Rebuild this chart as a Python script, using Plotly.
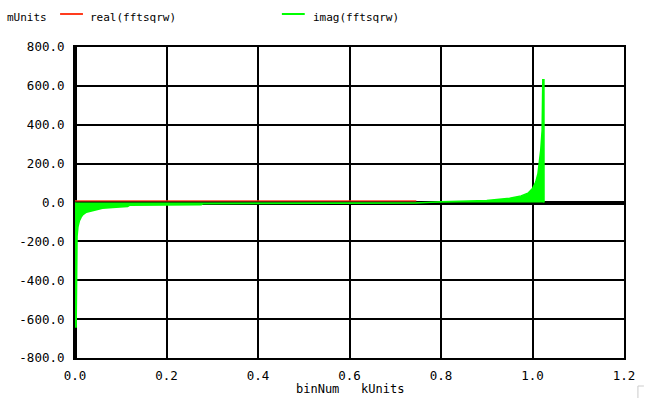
import plotly.graph_objects as go

# ---- data ----
# x in kUnits (binNum), y in mUnits
imag_x = [0.0, 0.0005, 0.0025, 0.003, 0.0045, 0.0065, 0.0095, 0.0135, 0.0175,
          0.025, 0.04, 0.06, 0.09, 0.115, 0.12, 0.2, 0.276, 0.28, 0.5, 0.746,
          0.8, 0.9, 0.95, 0.975, 0.99, 1.0, 1.007, 1.012, 1.015, 1.018, 1.021,
          1.0225, 1.025, 1.0252]
imag_y = [0, -640, -640, -210, -175, -125, -95, -75, -62,
          -50, -40, -30, -24, -21, -14, -12, -11, -6, -5, -3,
          4, 10, 22, 34, 48, 72, 105, 150, 210, 270, 370,
          632, 632, 0]

real_x = [0.0, 0.746]
real_y = [8, 8]

x_tickvals = [0.0, 0.2, 0.4, 0.6, 0.8, 1.0, 1.2]
x_ticktext = ["0.0", "0.2", "0.4", "0.6", "0.8", "1.0", "1.2"]
y_tickvals = [-800, -600, -400, -200, 0, 200, 400, 600, 800]
y_ticktext = ["-800.0", "-600.0", "-400.0", "-200.0", "0.0", "200.0", "400.0", "600.0", "800.0"]

series_names = ["real(fftsqrw)", "imag(fftsqrw)"]
y_unit_label = "mUnits"
x_title = "binNum\u00a0\u00a0\u00a0kUnits"

# ---- layout geometry ----
W, H = 647, 398
L, R, T, B = 75, 627, 47, 358
FONT = "DejaVu Sans Mono"


def px(xp):
    return (xp - L) / (R - L)


def py(yp):
    return (B - yp) / (B - T)


fig = go.Figure()
fig.add_trace(go.Scatter(x=imag_x, y=imag_y, mode="lines", fill="tozeroy",
                         fillcolor="#00ff00", line=dict(color="#00ff00", width=1.5),
                         name=series_names[1], showlegend=False))
fig.add_trace(go.Scatter(x=real_x, y=real_y, mode="lines",
                         line=dict(color="#ff3c1e", width=1.2),
                         name=series_names[0], showlegend=False))

fig.update_layout(
    width=W, height=H,
    margin=dict(l=L, r=W - R, t=T, b=H - B, pad=0),
    paper_bgcolor="white", plot_bgcolor="white",
    font=dict(family=FONT, size=12, color="black"),
    showlegend=False,
)
fig.update_xaxes(range=[0, 1.2], tickvals=x_tickvals, ticktext=x_ticktext,
                 showgrid=True, gridcolor="black", gridwidth=2,
                 zeroline=False, showline=True, mirror=True,
                 linecolor="black", linewidth=2, ticks="",
                 ticklabelstandoff=5, tickfont=dict(size=12.5))
fig.update_yaxes(range=[-800, 800], tickvals=y_tickvals, ticktext=y_ticktext,
                 showgrid=True, gridcolor="black", gridwidth=2,
                 zeroline=True, zerolinecolor="black", zerolinewidth=4,
                 showline=True, mirror=True,
                 linecolor="black", linewidth=2, ticks="",
                 ticklabelstandoff=6, tickfont=dict(size=12.5))

# thick left edge
fig.add_shape(type="line", xref="x", yref="paper", x0=0, x1=0, y0=0, y1=1,
              line=dict(color="black", width=4), layer="below")

# legend / header texts
ann = [
    (5, 17, y_unit_label),
    (88, 17, series_names[0]),
    (312, 17, series_names[1]),
]
for xp, yp, t in ann:
    fig.add_annotation(x=px(xp), y=py(yp), xref="paper", yref="paper", text=t,
                       showarrow=False, xanchor="left", yanchor="middle",
                       font=dict(family=FONT, size=11, color="black"))
fig.add_shape(type="line", xref="paper", yref="paper", x0=px(60), x1=px(83),
              y0=py(14), y1=py(14), line=dict(color="#ff3c1e", width=2))
fig.add_shape(type="line", xref="paper", yref="paper", x0=px(283), x1=px(306),
              y0=py(14), y1=py(14), line=dict(color="#00ff00", width=2))

# x axis title
fig.add_annotation(x=px(352), y=py(389), xref="paper", yref="paper", text=x_title,
                   showarrow=False, xanchor="center", yanchor="middle",
                   font=dict(family=FONT, size=12, color="black"))

# small grey corner mark bottom-right
fig.add_shape(type="path", xref="paper", yref="paper",
              path=f"M {px(641)} {py(398)} L {px(641)} {py(386)} L {px(647)} {py(386)}",
              line=dict(color="#cccccc", width=1))

fig.write_html("out.html", config={"displayModeBar": False},
               post_script="document.body.style.margin='0';")
